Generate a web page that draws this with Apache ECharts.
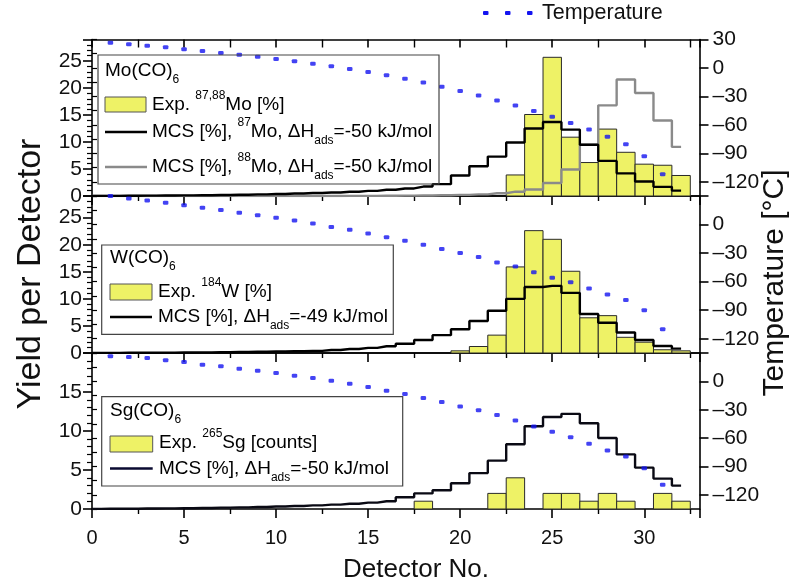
<!DOCTYPE html>
<html><head><meta charset="utf-8">
<script src="https://cdn.jsdelivr.net/npm/echarts@6/dist/echarts.min.js"></script>
<style>html,body{margin:0;padding:0;background:#fff}#c{width:804px;height:585px}</style>
</head><body><div id="c"></div>
<script>
// ---------- data ----------
const detectorMax = 33;
const xTickLabels = [0, 5, 10, 15, 20, 25, 30];
const tempTickLabels = [30, 0, -30, -60, -90, -120];
const tempMin = -135, tempMax = 30;
const yieldMaxTop = 29, yieldMaxMid = 29, yieldMaxBot = 20;

// Panel 1: Mo(CO)6
const moExpDet = [23, 24, 25, 26, 27, 28, 29, 30, 31, 32];
const moExpVal = [3.9, 15.1, 25.7, 10.9, 6.2, 12.4, 8.1, 5.9, 5.7, 3.8];
// MCS values for detectors 0..32
const moMcs87 = [0.02, 0.03, 0.05, 0.07, 0.09, 0.12, 0.15, 0.19, 0.24, 0.3, 0.37, 0.45, 0.55, 0.66, 0.8, 0.95, 1.15, 1.4, 1.75, 2.2, 3.8, 5.5, 7.3, 9.9, 12.5, 13.7, 12.3, 9.5, 6.5, 4.2, 2.7, 1.7, 1.0];
const moMcs88 = [0, 0, 0, 0, 0, 0, 0, 0, 0, 0, 0, 0, 0, 0, 0.02, 0.03, 0.05, 0.07, 0.1, 0.15, 0.2, 0.3, 0.5, 0.8, 1.2, 2.4, 4.9, 9.5, 16.8, 21.6, 19.1, 14.0, 9.1];
// temperature for detectors 1..31
const moTemp = [26.5, 25, 23.5, 21.8, 19.8, 17.8, 15.8, 13.8, 11.7, 9.5, 7.1, 4.5, 1.8, -1.1, -4.3, -7.8, -11.5, -15.4, -19.8, -24.3, -29, -34.2, -39.6, -45.3, -51.5, -58, -65, -72.5, -80.5, -93, -112];

// Panel 2: W(CO)6
const wExpDet = [20, 21, 22, 23, 24, 25, 26, 27, 28, 29, 30, 31, 32];
const wExpVal = [0.4, 1.2, 3.3, 15.9, 22.6, 21.0, 15.1, 6.5, 6.9, 2.9, 2.0, 0.6, 0.4];
const wMcs = [0.02, 0.03, 0.04, 0.05, 0.07, 0.09, 0.11, 0.14, 0.18, 0.22, 0.27, 0.33, 0.4, 0.55, 0.75, 0.95, 1.25, 1.7, 2.4, 3.3, 4.4, 5.9, 7.8, 10.0, 12.2, 12.4, 11.1, 7.2, 5.6, 3.8, 2.4, 1.3, 0.8];
const wTemp = [30, 27.5, 25.4, 23, 20.4, 17.7, 15.2, 12.4, 9.9, 7.1, 4.2, 1.1, -2.5, -5.6, -9.5, -13.4, -16.9, -21.2, -25.8, -30, -34.2, -39.9, -44.1, -50.1, -55.8, -60.7, -67.1, -73.4, -79.4, -90, -110];

// Panel 3: Sg(CO)6
const sgExpDet = [18, 22, 23, 25, 26, 27, 28, 29, 31, 32];
const sgExpVal = [1, 2, 4, 2, 2, 1, 2, 1, 2, 1];
const sgMcs = [0.02, 0.03, 0.04, 0.06, 0.08, 0.1, 0.13, 0.17, 0.21, 0.26, 0.32, 0.39, 0.47, 0.56, 0.68, 0.82, 1.0, 1.5, 2.0, 2.4, 3.3, 4.6, 6.2, 8.3, 10.6, 11.8, 12.2, 11.0, 9.1, 7.0, 5.3, 3.9, 3.0];
const sgTemp = [26.5, 25.8, 24.7, 22.2, 20.5, 17.6, 15.9, 13.4, 11.3, 8.8, 6, 3.5, 0.7, -2.5, -6, -9.9, -13.4, -17.6, -21.9, -26.5, -30.5, -35.5, -41.3, -47.7, -53.3, -59, -66, -73.1, -79.4, -91.8, -109.4];

// ---------- styling ----------
const FONT = 'Liberation Sans, Arial, sans-serif';
const BAR_FILL = '#eef266';
const BAR_EDGE = '#2a2a2a';
const BLUE = '#1414f0';
const AX = '#000';

const grids = [
  {left: 92, right: 104.5, top: 39.5, height: 156.5},
  {left: 92, right: 104.5, top: 196, height: 157},
  {left: 92, right: 104.5, top: 353, height: 156}
];
const yieldMax = [yieldMaxTop, yieldMaxMid, yieldMaxBot];

const xAxes = [], yAxes = [], series = [];
grids.forEach((g, i) => {
  xAxes.push({
    gridIndex: i, type: 'value', min: 0, max: detectorMax, interval: 5,
    axisLine: {show: true, onZero: false, lineStyle: {color: AX, width: 1.6}},
    axisTick: {show: true, inside: false, length: 9, lineStyle: {color: AX, width: 1.6}},
    minorTick: {show: true, splitNumber: 2, length: 5, lineStyle: {color: AX, width: 1.4}},
    axisLabel: {show: i === 2, customValues: xTickLabels, color: '#111', fontSize: 20, fontFamily: FONT, margin: 19},
    splitLine: {show: false}, minorSplitLine: {show: false}
  });
  xAxes.push({
    gridIndex: i, type: 'value', position: 'top', min: 0, max: detectorMax, interval: 5,
    axisLine: {show: true, onZero: false, lineStyle: {color: AX, width: 1.6}},
    axisTick: {show: i === 0, inside: true, length: 8, lineStyle: {color: AX, width: 1.6}},
    minorTick: {show: i === 0, splitNumber: 2, length: 8, lineStyle: {color: AX, width: 1.4}},
    axisLabel: {show: false}, splitLine: {show: false}
  });
  // yield axis (left)
  yAxes.push({
    gridIndex: i, type: 'value', position: 'left', min: 0, max: yieldMax[i], interval: 5,
    axisLine: {show: true, onZero: false, lineStyle: {color: AX, width: 1.6}},
    axisTick: {show: true, inside: false, length: 9, lineStyle: {color: AX, width: 1.6}},
    minorTick: {show: true, splitNumber: 5, length: 5, lineStyle: {color: AX, width: 1.2}},
    axisLabel: {showMaxLabel: false, color: '#111', fontSize: 21, fontFamily: FONT, margin: 10},
    splitLine: {show: false}, minorSplitLine: {show: false}
  });
  // temperature axis (right), major ticks + labels
  const labs = i === 0 ? tempTickLabels : tempTickLabels.filter(v => v < 30);
  yAxes.push({
    gridIndex: i, type: 'value', position: 'right', min: tempMin, max: tempMax, interval: 15,
    axisLine: {show: true, onZero: false, lineStyle: {color: AX, width: 1.6}},
    axisTick: {show: true, inside: false, length: 9, customValues: tempTickLabels, lineStyle: {color: AX, width: 1.6}},
    axisLabel: {customValues: labs, color: '#111', fontSize: 21, fontFamily: FONT, margin: 13,
      formatter: v => String(v).replace('-', '\u2013')},
    splitLine: {show: false}
  });
  // temperature axis minor ticks
  yAxes.push({
    gridIndex: i, type: 'value', position: 'right', min: tempMin, max: tempMax, interval: 15,
    axisLine: {show: false}, axisLabel: {show: false},
    axisTick: {show: true, inside: false, length: 5, lineStyle: {color: AX, width: 1.2}},
    splitLine: {show: false}
  });
});

function barSeries(name, det, val, gi) {
  return {
    name, type: 'custom', xAxisIndex: gi * 2, yAxisIndex: gi * 3, z: 2,
    data: det.map((d, k) => [d, val[k]]),
    encode: {x: 0, y: 1},
    renderItem: (params, api) => {
      const x = api.value(0), v = api.value(1);
      const p0 = api.coord([x - 0.5, v]);
      const p1 = api.coord([x + 0.5, 0]);
      return {type: 'rect', shape: {x: p0[0], y: p0[1], width: p1[0] - p0[0], height: p1[1] - p0[1]},
        style: {fill: BAR_FILL, stroke: BAR_EDGE, lineWidth: 1}};
    }
  };
}
function stepSeries(name, vals, gi, color, z) {
  return {
    name, type: 'line', xAxisIndex: gi * 2, yAxisIndex: gi * 3, step: 'middle', z: z,
    showSymbol: false, symbol: 'none', clip: true,
    data: vals.map((v, d) => [d, v]),
    lineStyle: {color, width: 2.4}
  };
}
function tempSeries(vals, gi) {
  return {
    name: 'Temperature', type: 'scatter', xAxisIndex: gi * 2, yAxisIndex: gi * 3 + 1, z: 5,
    symbol: 'roundRect', symbolSize: [5.5, 4],
    data: vals.map((v, k) => [k + 1, v]),
    itemStyle: {color: BLUE}
  };
}

series.push(barSeries('Exp. Mo', moExpDet, moExpVal, 0));
series.push(stepSeries('MCS 88Mo', moMcs88, 0, '#8a8a8a', 3));
series.push(stepSeries('MCS 87Mo', moMcs87, 0, '#000', 4));
series.push(tempSeries(moTemp, 0));
series.push(barSeries('Exp. W', wExpDet, wExpVal, 1));
series.push(stepSeries('MCS W', wMcs, 1, '#000', 4));
series.push(tempSeries(wTemp, 1));
series.push(barSeries('Exp. Sg', sgExpDet, sgExpVal, 2));
series.push(stepSeries('MCS Sg', sgMcs, 2, '#0a0a14', 4));
series.push(tempSeries(sgTemp, 2));

// ---------- legends / titles (graphic) ----------
const rich = {
  b: {fontSize: 19, fontFamily: FONT, color: '#111', lineHeight: 30},
  sup: {fontSize: 12, fontFamily: FONT, color: '#111', lineHeight: 12, verticalAlign: 'top'},
  sub: {fontSize: 12, fontFamily: FONT, color: '#111', lineHeight: 12, verticalAlign: 'bottom'}
};
function rtext(x, y, text) {
  return {type: 'text', x, y, z: 20, style: {text, rich, verticalAlign: 'middle', align: 'left'}};
}
function box(x, y, w, h) {
  return {type: 'rect', z: 19, shape: {x, y, width: w, height: h}, style: {fill: null, stroke: '#444', lineWidth: 1.2}};
}
function swatch(x, y, w, h) {
  return {type: 'rect', z: 20, shape: {x, y, width: w, height: h}, style: {fill: BAR_FILL, stroke: '#555', lineWidth: 1}};
}
function lineSym(x1, x2, y, color) {
  return {type: 'line', z: 20, shape: {x1, y1: y, x2, y2: y}, style: {stroke: color, lineWidth: 2.4}};
}
const graphic = [
  // Mo legend
  box(98, 55, 341, 129),
  rtext(105, 71, '{b|Mo(CO)}{sub|6}'),
  swatch(105, 97, 41, 15),
  rtext(152, 105, '{b|Exp. }{sup|87,88}{b|Mo [%]}'),
  lineSym(105, 147, 132, '#000'),
  rtext(152, 132, '{b|MCS [%], }{sup|87}{b|Mo, ΔH}{sub|ads}{b|=-50 kJ/mol}'),
  lineSym(105, 147, 167, '#8a8a8a'),
  rtext(152, 167, '{b|MCS [%], }{sup|88}{b|Mo, ΔH}{sub|ads}{b|=-50 kJ/mol}'),
  // W legend
  box(101.7, 245, 291.6, 89.3),
  rtext(110, 258, '{b|W(CO)}{sub|6}'),
  swatch(110, 284, 42, 16),
  rtext(158, 292, '{b|Exp. }{sup|184}{b|W [%]}'),
  lineSym(110, 152, 317, '#000'),
  rtext(158, 317, '{b|MCS [%], ΔH}{sub|ads}{b|=-49 kJ/mol}'),
  // Sg legend
  box(101.7, 396.7, 301, 89.3),
  rtext(110, 411, '{b|Sg(CO)}{sub|6}'),
  swatch(110, 436, 42.7, 16),
  rtext(159, 443, '{b|Exp. }{sup|265}{b|Sg [counts]}'),
  lineSym(110, 152.7, 468.5, '#0a0a30'),
  rtext(159, 468.5, '{b|MCS [%], ΔH}{sub|ads}{b|=-50 kJ/mol}'),
  // Temperature legend
  {type: 'rect', z: 20, shape: {x: 483, y: 11, width: 5.5, height: 4, r: 1}, style: {fill: BLUE}},
  {type: 'rect', z: 20, shape: {x: 505, y: 11, width: 5.5, height: 4, r: 1}, style: {fill: BLUE}},
  {type: 'rect', z: 20, shape: {x: 527, y: 11, width: 5.5, height: 4, r: 1}, style: {fill: BLUE}},
  {type: 'text', x: 542, y: 13, z: 20, style: {text: 'Temperature', fontSize: 21.5, fontFamily: FONT, fill: '#111', verticalAlign: 'middle'}},
  // axis titles
  {type: 'text', x: 416, y: 570, z: 20, style: {text: 'Detector No.', fontSize: 26, fontFamily: FONT, fill: '#111', align: 'center', verticalAlign: 'middle'}},
  {type: 'text', x: 31, y: 274, z: 20, rotation: Math.PI / 2, style: {text: 'Yield per Detector', fontSize: 34, fontFamily: FONT, fill: '#111', align: 'center', verticalAlign: 'middle'}},
  {type: 'text', x: 775, y: 283, z: 20, rotation: Math.PI / 2, style: {text: 'Temperature [°C]', fontSize: 30, fontFamily: FONT, fill: '#111', align: 'center', verticalAlign: 'middle'}}
];

const chart = echarts.init(document.getElementById('c'), null, {renderer: 'canvas'});
chart.setOption({
  backgroundColor: '#fff',
  animation: false,
  grid: grids,
  xAxis: xAxes,
  yAxis: yAxes,
  series,
  graphic
});
</script></body></html>
